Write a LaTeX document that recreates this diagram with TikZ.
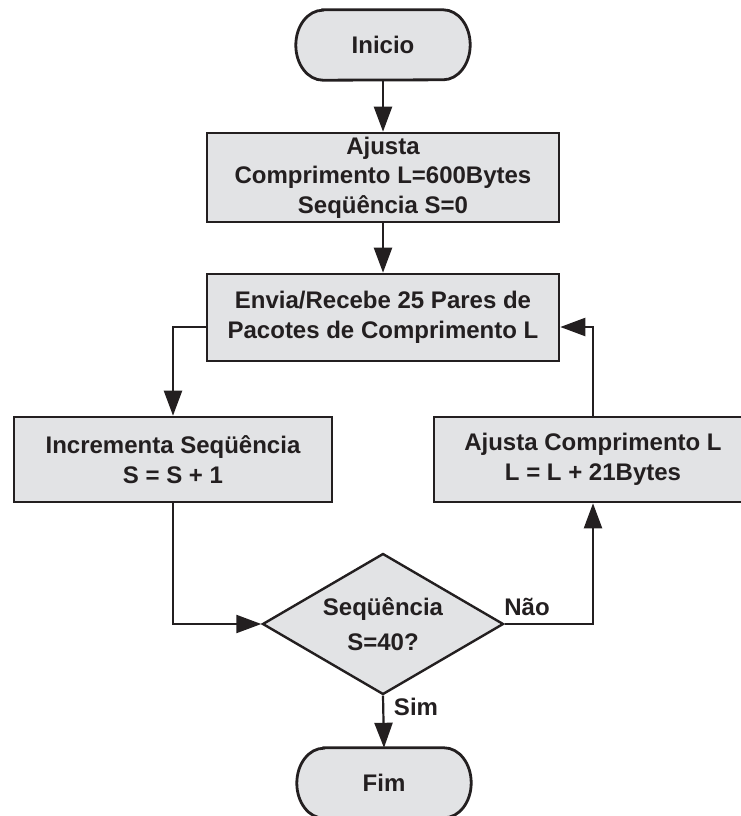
\documentclass[tikz,border=0pt]{standalone}
\usepackage{fontspec}
\setmainfont{Liberation Sans}
\usetikzlibrary{shapes.geometric,arrows.meta,backgrounds}
\definecolor{boxfill}{RGB}{226,227,229}
\definecolor{ink}{RGB}{35,31,32}
% terminator outline: straight top and bottom, elliptical end caps
\newcommand{\termoutline}[1]{%
  \path[termshape] ([xshift=27pt]#1.north west) -- ([xshift=-27pt]#1.north east)
    arc[start angle=90,end angle=-90,x radius=27pt,y radius=35pt]
    -- ([xshift=27pt]#1.south west)
    arc[start angle=270,end angle=90,x radius=27pt,y radius=35pt] -- cycle;}
\begin{document}
\begin{tikzpicture}[x=1pt,y=-1pt,
  txt/.style={font=\fontsize{24}{29.5}\selectfont\bfseries, text=ink, align=center},
  stepbox/.style={txt, draw=ink, fill=boxfill, line width=2.6pt, inner sep=0pt},
  termnode/.style={txt, inner sep=0pt, minimum width=174pt, minimum height=70pt},
  termshape/.style={draw=ink, fill=boxfill, line width=2.8pt},
  decision/.style={txt, font=\fontsize{24}{35}\selectfont\bfseries, diamond, shape aspect=1.7,
    draw=ink, fill=boxfill, line width=2.4pt, inner sep=0pt,
    minimum width=241pt, minimum height=141pt},
  flow/.style={draw=ink, line width=2.2pt, -{Triangle[length=25pt,width=18pt]}},
  lbl/.style={txt}]
\useasboundingbox (0,0) rectangle (741,816);

% nodes
\node[termnode] (start) at (383,45) {Inicio};
\node[stepbox, minimum width=352pt, minimum height=89pt] (init) at (383,177.5)
  {Ajusta\\Comprimento L=600Bytes\\Seqüência S=0};
\node[stepbox, minimum width=352pt, minimum height=87pt] (send) at (383,317.5)
  {Envia/Recebe 25 Pares de\\Pacotes de Comprimento L};
\node[stepbox, minimum width=318pt, minimum height=85pt] (incr) at (173,459.5)
  {Incrementa Seqüência\\S = S + 1};
\node[stepbox, minimum width=318pt, minimum height=85pt] (adj) at (593,459.5)
  {Ajusta Comprimento L\\L = L + 21Bytes};
\node[decision] (test) at (383,624) {Seqüência\\S=40?};
\node[termnode] (stop) at (384,783) {Fim};

% terminator outlines behind their labels
\begin{pgfonlayer}{background}
  \termoutline{start}
  \termoutline{stop}
\end{pgfonlayer}

% connectors
\coordinate (loopy) at (0,327);
\draw[flow] (start.south) -- (init.north);
\draw[flow] (init.south) -- (send.north);
\draw[flow] (send.west |- loopy) -| (incr.north);
\draw[flow] (incr.south) |- (test.west);
\draw[flow] (test.east) -| (adj.south);
\draw[flow] (adj.north) |- (send.east |- loopy);
\draw[flow] (test.south) -- (stop.north);

% branch labels
\node[lbl] (no) at (527,607) {Não};
\node[lbl] (yes) at (416,707) {Sim};
\end{tikzpicture}
\end{document}
